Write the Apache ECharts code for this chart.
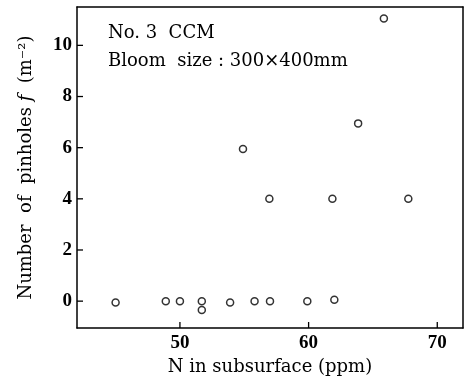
<!DOCTYPE html>
<html>
<head>
<meta charset="utf-8">
<style>html,body{margin:0;padding:0;background:#fff;}#c{width:465px;height:384px;}</style>
<script src="https://cdn.jsdelivr.net/npm/echarts@6/dist/echarts.min.js"></script>
</head>
<body>
<div id="c"></div>
<script>
// N in subsurface (ppm)
var nValues = [45, 48.9, 50.0, 51.7, 51.7, 53.9, 55.8, 57.0, 59.9, 62.0, 54.9, 56.95, 61.85, 63.85, 65.85, 67.75];
// Number of pinholes f (m^-2)
var pinholes = [-0.05, 0, 0, 0, -0.35, -0.05, 0, 0, 0, 0.05, 5.95, 4.0, 4.0, 6.95, 11.05, 4.0];
var xTicks = [50, 60, 70];
var yTicks = [0, 2, 4, 6, 8, 10];
var noteLines = ['No. 3  CCM', 'Bloom  size : 300×400mm'];

var X_MIN = 42, X_MAX = 72, Y_MIN = -1.05, Y_MAX = 11.5;
var pts = nValues.map(function (v, i) { return [v, pinholes[i]]; });
var chart = echarts.init(document.getElementById('c'));
var serif = '"DejaVu Serif", serif';
var tickFont = '"Liberation Serif", serif';
function frameAxis(pos, min, max) {
  return {
    type: 'value', position: pos, min: min, max: max,
    axisLine: { show: true, onZero: false, lineStyle: { color: '#000', width: 1.5 } },
    axisTick: { show: false }, axisLabel: { show: false }, splitLine: { show: false }
  };
}
var texts = [
  { id: 't0', type: 'text', left: 108, top: 24, style: { text: noteLines[0], font: '18px "DejaVu Serif", serif', fill: '#000' } },
  { id: 't1', type: 'text', left: 108, top: 52, style: { text: noteLines[1], font: '18px "DejaVu Serif", serif', fill: '#000' } }
];
chart.setOption({
  animation: false,
  backgroundColor: '#fff',
  grid: { left: 77, right: 2, top: 7, bottom: 56 },
  xAxis: [{
    type: 'value', position: 'bottom', min: X_MIN, max: X_MAX,
    name: 'N in subsurface (ppm)', nameLocation: 'middle', nameGap: 30,
    nameTextStyle: { fontFamily: serif, fontSize: 18, color: '#000' },
    axisLine: { show: true, onZero: false, lineStyle: { color: '#000', width: 1.5 } },
    axisTick: { show: false },
    axisLabel: { customValues: xTicks, color: '#000', fontFamily: tickFont, fontWeight: 'bold', fontSize: 19, margin: 6 },
    splitLine: { show: false }
  }, frameAxis('top', X_MIN, X_MAX)],
  yAxis: [{
    type: 'value', position: 'left', min: Y_MIN, max: Y_MAX,
    name: '{n|Number  of  pinholes }{i|f}{n|  (m⁻²)}', nameLocation: 'middle', nameGap: 42, nameRotate: 90,
    nameTextStyle: { fontFamily: serif, fontSize: 18, color: '#000',
      rich: { n: { fontFamily: serif, fontSize: 18, color: '#000' }, i: { fontFamily: serif, fontSize: 18, fontStyle: 'italic', color: '#000' } } },
    axisLine: { show: true, onZero: false, lineStyle: { color: '#000', width: 1.5 } },
    axisTick: { show: false },
    axisLabel: { customValues: yTicks, color: '#000', fontFamily: tickFont, fontWeight: 'bold', fontSize: 19, margin: 5 },
    splitLine: { show: false }
  }, frameAxis('right', Y_MIN, Y_MAX)],
  graphic: texts,
  series: [{
    type: 'scatter', data: pts, symbol: 'circle', symbolSize: 7, xAxisIndex: 0, yAxisIndex: 0,
    itemStyle: { color: '#fff', borderColor: '#000', borderWidth: 1.5 }
  }]
});
// inward tick marks placed through the chart's own axis scales
var finder = { xAxisIndex: 0, yAxisIndex: 0 };
var tickEls = [];
xTicks.forEach(function (v, i) {
  var p = chart.convertToPixel(finder, [v, Y_MIN]);
  tickEls.push({ id: 'xt' + i, type: 'line', z: 10, shape: { x1: p[0], y1: p[1], x2: p[0], y2: p[1] - 6 }, style: { stroke: '#000', lineWidth: 1.3 } });
});
yTicks.forEach(function (v, i) {
  var p = chart.convertToPixel(finder, [X_MIN, v]);
  tickEls.push({ id: 'yt' + i, type: 'line', z: 10, shape: { x1: p[0], y1: p[1], x2: p[0] + 6, y2: p[1] }, style: { stroke: '#000', lineWidth: 1.3 } });
});
chart.setOption({ graphic: texts.concat(tickEls) });
</script>
</body>
</html>
